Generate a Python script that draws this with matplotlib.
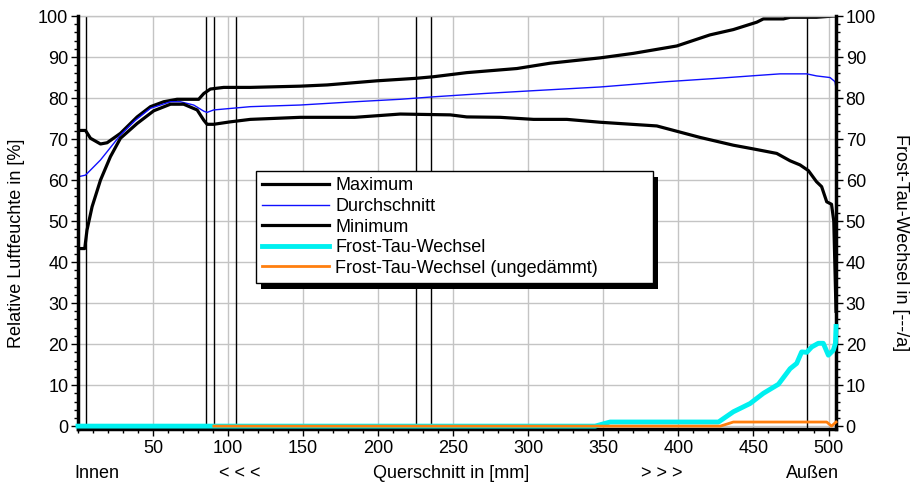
import numpy as np
import matplotlib.pyplot as plt
from matplotlib.patches import Rectangle
from matplotlib.ticker import MultipleLocator

plt.rcParams['font.family'] = ['Liberation Sans', 'DejaVu Sans']

# Relative Luftfeuchte (linke Achse)
max_x = [0, 5, 8.3, 15, 19.4, 28.3, 39.4, 48.3, 57.1, 66, 80.4, 83.8, 88.2, 97.1, 114.8,
         148, 166, 199, 224.7, 236.9, 259, 292.4, 314.6, 347.9, 370, 398.9, 421, 436.6,
         452.2, 456.6, 470, 474.4, 492, 503.5, 505]
max_y = [72.1, 72.1, 70.2, 68.8, 69.1, 71.4, 75.4, 77.9, 79.1, 79.7, 79.7, 81.1, 82.2, 82.6, 82.6,
         82.9, 83.2, 84.2, 84.8, 85.2, 86.2, 87.2, 88.5, 89.8, 90.9, 92.7, 95.4, 96.7,
         98.5, 99.3, 99.3, 99.7, 99.7, 100, 100]

avg_x = [0, 5, 15, 28.3, 38, 48.3, 61.6, 68.2, 77.1, 83.8, 86, 90.4, 114.8, 148, 184.4,
         214.7, 236.9, 270.2, 303.5, 347.9, 392.3, 425.6, 452.2, 467.7, 485.5, 492, 501,
         504.3, 505.4]
avg_y = [60.8, 61.2, 64.9, 71, 74.5, 77.5, 79.1, 79.1, 78.3, 76.8, 76.5, 77.1, 77.9, 78.3, 79.1,
         79.7, 80.3, 81.1, 81.8, 82.7, 84, 84.8, 85.5, 85.9, 85.9, 85.4, 85, 84, 81.5]

min_x = [0, 4.5, 6, 9.4, 15, 21.6, 28.3, 39.4, 50.5, 61.6, 70.4, 79.4, 83.8, 86, 90.4, 101.5,
         114.8, 148, 184.4, 214.7, 248, 259, 281.3, 303.5, 325.7, 347.9, 385.6, 414.4, 436.6,
         449.9, 465.5, 474.4, 481, 486.6, 492, 495.4, 498.8, 502, 503.5, 505]
min_y = [43.3, 43.3, 47.8, 53.5, 60, 65.7, 70.2, 73.8, 76.9, 78.5, 78.5, 77.1, 74.6, 73.6, 73.6, 74.2,
         74.8, 75.3, 75.3, 76.1, 75.9, 75.4, 75.3, 74.8, 74.8, 74.1, 73.2, 70.4, 68.5,
         67.6, 66.5, 64.7, 63.7, 62.3, 59.6, 58.4, 54.7, 54.1, 50, 28]

# Frost-Tau-Wechsel (rechte Achse)
ftw_x = [0, 344.5, 354.5, 426.7, 436.6, 447.7, 456.6, 466.6, 474.4, 478.8, 482.1, 485.5,
         488.8, 493.2, 496.5, 499.9, 503.2, 504.6, 505]
ftw_y = [0, 0, 1, 1, 3.5, 5.5, 8, 10.2, 14, 15.3, 18.1, 18, 19.3, 20.2, 20.2, 17.3, 18.5, 20.2, 24.3]

ftw_ung_x = [90.5, 428, 436.6, 498.8, 502, 505]
ftw_ung_y = [0, 0, 1, 1, 0, 1]

# Schichtgrenzen
grenzen = [5.5, 85, 90.5, 105.5, 225, 235.5, 485.5]

fs = 13
fig = plt.figure(figsize=(9.11, 4.86), dpi=100)
ax = fig.add_axes([0.0856, 0.1173, 0.9177 - 0.0856, 0.967 - 0.1173])
ax2 = ax.twinx()

ax.set_xlim(0, 505)
ax.set_ylim(-0.7, 100)
ax2.set_ylim(-0.7, 100)

ax.grid(True, which='major', color='#c4c4c4', lw=1)
ax.set_axisbelow(True)

for g in grenzen:
    ax.axvline(g, color='black', lw=1.0, zorder=1.5)

l1, = ax.plot(max_x, max_y, color='black', lw=2.3, label='Maximum')
l2, = ax.plot(avg_x, avg_y, color='#1010ff', lw=1.0, label='Durchschnitt')
l3, = ax.plot(min_x, min_y, color='black', lw=2.3, label='Minimum')
l4, = ax2.plot(ftw_x, ftw_y, color='#00f0f0', lw=3.5, label='Frost-Tau-Wechsel', clip_on=False)
l5, = ax2.plot(ftw_ung_x, ftw_ung_y, color='#ff7f0e', lw=2.0,
               label='Frost-Tau-Wechsel (ungedämmt)', clip_on=False)

ax.set_xticks(np.arange(50, 501, 50))
ax.xaxis.set_minor_locator(MultipleLocator(10))
ax.set_yticks(np.arange(0, 101, 10))
ax.yaxis.set_minor_locator(MultipleLocator(2))
ax2.set_yticks(np.arange(0, 101, 10))
ax2.yaxis.set_minor_locator(MultipleLocator(2))

ax.tick_params(axis='both', which='major', direction='out', length=5, width=1,
               labelsize=fs, pad=2)
ax.tick_params(axis='both', which='minor', direction='out', length=3, width=1)
ax.tick_params(axis='x', which='major', pad=3)
ax2.tick_params(axis='y', which='major', direction='out', length=5, width=1,
                labelsize=fs, pad=2)
ax2.tick_params(axis='y', which='minor', direction='out', length=3, width=1)

for s in ['left', 'bottom', 'right']:
    ax.spines[s].set_linewidth(2.5)
    ax.spines[s].set_zorder(3)
ax.spines['top'].set_color('#c4c4c4')
ax.spines['top'].set_linewidth(1)
for s in ax2.spines.values():
    s.set_visible(False)

fig.text(0.018, 0.5, 'Relative Luftfeuchte in [%]', rotation=90, fontsize=fs,
         ha='center', va='center')
fig.text(0.989, 0.5, 'Frost-Tau-Wechsel in [---/a]', rotation=270, fontsize=fs,
         ha='center', va='center')

unten = [(12.3, 'Innen'), (108, '< < <'), (248.7, 'Querschnitt in [mm]'),
         (389, '> > >'), (489, 'Außen')]
trans = ax.get_xaxis_transform()
for xp, txt in unten:
    ax.text(xp, -0.108, txt, transform=trans, ha='center', va='center', fontsize=fs)

leg = ax2.legend(handles=[l1, l2, l3, l4, l5], loc='upper left',
                 bbox_to_anchor=(0.2344, 0.5247, 0.524, 0.1), mode='expand',
                 fontsize=fs, frameon=True, fancybox=False, framealpha=1,
                 edgecolor='black', handlelength=3.7, handletextpad=0.35,
                 labelspacing=0.2, borderpad=0.35, borderaxespad=0)
leg.get_frame().set_linewidth(1)
leg.set_zorder(6)

fig.canvas.draw()
bb = leg.get_window_extent().transformed(ax2.transAxes.inverted())
dx = 5 / (ax.bbox.width)
dy = 6 / (ax.bbox.height)
ax2.add_patch(Rectangle((bb.x0 + dx, bb.y0 - dy), bb.width, bb.height,
                        transform=ax2.transAxes, facecolor='black', edgecolor='none',
                        zorder=5.5, clip_on=False))

fig.savefig('out.png', dpi=100)
